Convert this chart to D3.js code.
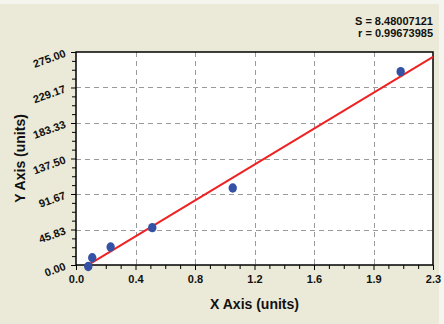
<!DOCTYPE html>
<html>
<head>
<meta charset="utf-8">
<script src="https://cdn.jsdelivr.net/npm/d3@7"></script>
<style>
  body { margin: 0; background: #ebe9d7; }
  svg { display: block; font-family: "Liberation Sans", Arial, sans-serif; }
</style>
</head>
<body>
<svg id="chart" width="444" height="324"></svg>
<script>
// data
const xValues = [0.080, 0.106, 0.226, 0.498, 1.023, 2.119];
const yValues = [-2.0, 9.4, 23.2, 48.2, 99.4, 249.6];
const xTicks = [0, 2.33 / 6, 2.33 * 2 / 6, 2.33 * 3 / 6, 2.33 * 4 / 6, 2.33 * 5 / 6, 2.33];
const yTicks = [0, 45.83, 91.67, 137.5, 183.33, 229.17, 275];
const fitSlope = 119.4;
const fitIntercept = -9.4;
const statLines = ['S = 8.48007121', 'r = 0.99673985'];

const W = 444, H = 324;
const m = { left: 76, right: 433, top: 52, bottom: 265 };

const svg = d3.select('#chart');

svg.append('rect').attr('width', W).attr('height', H).attr('fill', '#ebe9d7');
svg.append('rect').attr('width', W).attr('height', 4).attr('fill', '#f5f5ef');
svg.append('rect').attr('x', 439).attr('width', 5).attr('height', H).attr('fill', '#f5f5ef');

const x = d3.scaleLinear().domain([0, 2.33]).range([m.left, m.right]);
const y = d3.scaleLinear().domain([0, 275]).range([m.bottom, m.top]);

svg.append('rect')
    .attr('x', m.left).attr('y', m.top)
    .attr('width', m.right - m.left).attr('height', m.bottom - m.top)
    .attr('fill', '#fff');

// grid
const grid = svg.append('g')
    .attr('stroke', '#9a9a9a')
    .attr('stroke-dasharray', '5,4')
    .attr('stroke-width', 1);

grid.selectAll('.gx')
    .data(xTicks.slice(1, -1))
    .enter().append('line')
    .attr('x1', d => Math.round(x(d)) + 0.5).attr('x2', d => Math.round(x(d)) + 0.5)
    .attr('y1', m.top).attr('y2', m.bottom);

grid.selectAll('.gy')
    .data(yTicks.slice(1, -1))
    .enter().append('line')
    .attr('y1', d => Math.round(y(d)) + 0.5).attr('y2', d => Math.round(y(d)) + 0.5)
    .attr('x1', m.left).attr('x2', m.right);

// minor ticks
const minor = (ticks) => {
    const out = [];
    for (let i = 0; i < ticks.length - 1; i++)
        for (let k = 1; k < 4; k++) out.push(ticks[i] + (ticks[i + 1] - ticks[i]) * k / 4);
    return out;
};

const xAxis = d3.axisBottom(x)
    .tickValues(xTicks)
    .tickFormat(d => d.toFixed(1))
    .tickSize(5)
    .tickPadding(5);

const yAxis = d3.axisLeft(y)
    .tickValues(yTicks)
    .tickFormat(d => d.toFixed(2))
    .tickSize(5)
    .tickPadding(6);

const gx = svg.append('g')
    .attr('transform', `translate(0,${m.bottom})`)
    .call(xAxis);
gx.select('.domain').remove();
gx.selectAll('text')
    .attr('font-size', 11).attr('font-weight', 'bold')
    .attr('font-family', '"Liberation Sans", Arial, sans-serif')
    .attr('fill', '#111');
gx.selectAll('line').attr('stroke', '#000');
svg.append('g')
    .attr('transform', `translate(0,${m.bottom})`)
    .call(d3.axisBottom(x).tickValues(minor(xTicks)).tickSize(4).tickFormat(''))
    .select('.domain').remove();

const gy = svg.append('g')
    .attr('transform', `translate(${m.left},0)`)
    .call(yAxis);
gy.select('.domain').remove();
gy.selectAll('line').attr('stroke', '#000');
gy.selectAll('text')
    .attr('font-size', 11).attr('font-weight', 'bold')
    .attr('font-family', '"Liberation Sans", Arial, sans-serif')
    .attr('fill', '#111')
    .attr('dy', '0.38em')
    .attr('transform', 'rotate(-20,-11,0)');
svg.append('g')
    .attr('transform', `translate(${m.left},0)`)
    .call(d3.axisLeft(y).tickValues(minor(yTicks)).tickSize(4).tickFormat(''))
    .select('.domain').remove();

// frame
svg.append('rect')
    .attr('x', m.left).attr('y', m.top)
    .attr('width', m.right - m.left).attr('height', m.bottom - m.top)
    .attr('fill', 'none').attr('stroke', '#000').attr('stroke-width', 1.5);

// fit line
const fitX = [d3.min(xValues), 2.33];
svg.append('line')
    .attr('x1', x(fitX[0])).attr('y1', y(fitSlope * fitX[0] + fitIntercept))
    .attr('x2', x(fitX[1])).attr('y2', y(fitSlope * fitX[1] + fitIntercept))
    .attr('stroke', '#ee2222').attr('stroke-width', 2);

// points
svg.selectAll('.pt')
    .data(xValues.map((d, i) => [d, yValues[i]]))
    .enter().append('ellipse')
    .attr('cx', d => x(d[0])).attr('cy', d => y(d[1]))
    .attr('rx', 4.2).attr('ry', 4.7)
    .attr('fill', '#3451a5');

// stats
svg.selectAll('.stat')
    .data(statLines)
    .enter().append('text')
    .attr('x', 433).attr('y', (d, i) => 25 + i * 12)
    .attr('text-anchor', 'end')
    .attr('font-size', 11).attr('font-weight', 'bold')
    .attr('fill', '#111')
    .text(d => d);

// axis titles
svg.append('text')
    .attr('x', (m.left + m.right) / 2).attr('y', 309)
    .attr('text-anchor', 'middle')
    .attr('font-size', 14).attr('font-weight', 'bold')
    .attr('fill', '#111')
    .text('X Axis (units)');

svg.append('text')
    .attr('transform', `translate(25,${(m.top + m.bottom) / 2}) rotate(-90)`)
    .attr('text-anchor', 'middle')
    .attr('font-size', 14).attr('font-weight', 'bold')
    .attr('fill', '#111')
    .text('Y Axis (units)');
</script>
</body>
</html>
